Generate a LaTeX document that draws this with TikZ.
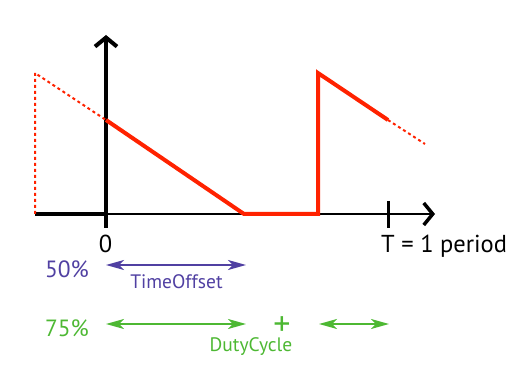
\documentclass[tikz,border=0pt]{standalone}
\usepackage{fontspec}
\setmainfont{PT Sans}
\usetikzlibrary{arrows.meta}
\definecolor{wave}{RGB}{255,34,0}
\definecolor{purp}{RGB}{80,64,162}
\definecolor{grn}{RGB}{77,184,51}
\tikzset{
  axis/.style={line width=4pt,black},
  thinaxis/.style={line width=2pt,black},
  chev/.style={-{Straight Barb[length=9pt,width=22pt,line width=4pt]}},
  chevthin/.style={-{Straight Barb[length=9pt,width=22pt,line width=3.5pt]}},
  sig/.style={line width=4pt,wave},
  sigdot/.style={line width=2pt,wave,dash pattern=on 3pt off 3pt},
  dim/.style={line width=2pt,{Stealth[length=18pt,width=10pt,inset=5pt]}-{Stealth[length=18pt,width=10pt,inset=5pt]}},
  lbl/.style={inner sep=0pt,font=\fontsize{24.5}{25}\selectfont},
  pct/.style={inner sep=0pt,font=\fontsize{23.5}{24}\selectfont},
  small/.style={inner sep=0pt,font=\fontsize{19.5}{20}\selectfont}
}
\begin{document}
\begin{tikzpicture}[x=1pt,y=-1pt]
\useasboundingbox (0,0) rectangle (531,390);
% coordinates
\coordinate (O) at (106,214);
\coordinate (L) at (35,214);
\coordinate (Ytop) at (106,35);
\coordinate (Ybot) at (106,228);
\coordinate (Xend) at (435,214);
\coordinate (Tt) at (388,201);
\coordinate (Tb) at (388,228);
\coordinate (A0) at (35,73);
\coordinate (A1) at (106,120);
\coordinate (A2) at (244,214);
\coordinate (A3) at (318,214);
\coordinate (A4) at (318,73);
\coordinate (A5) at (388,120);
\coordinate (A6) at (425,144);
% axes
\draw[axis] (L) -- (O);
\draw[thinaxis,chevthin] (O) -- (Xend);
\draw[axis,chev] (Ybot) -- (Ytop);
\draw[line width=3pt] (Tt) -- (Tb);
% signal
\draw[sigdot] (L) -- (A0) -- (A1);
\draw[sig,line join=miter] (A1) -- (A2) -- (A3) -- (A4) -- (A5);
\draw[sigdot] (A5) -- (A6);
% labels
\node[lbl,anchor=base] (zero) at (105.5,252.5) {0};
\node[lbl,anchor=base west] (T) at (381,253) {T = 1 period};
% purple
\node[pct,purp,anchor=base east] (p50) at (89,278) {50\%};
\coordinate (P0) at (106,265);
\coordinate (P1) at (246,265);
\draw[dim,purp] (P0) -- (P1);
\node[small,purp,anchor=base] (to) at (176.5,289) {TimeOffset};
% green
\node[pct,grn,anchor=base east] (g75) at (89,337) {75\%};
\coordinate (G0) at (106,324);
\coordinate (G1) at (246,324);
\draw[dim,grn] (G0) -- (G1);
\node[grn,inner sep=0pt,font=\fontsize{34}{34}\selectfont,anchor=base,text depth=0pt] (plus) at (282,335.5) {+};
\coordinate (G2) at (319,324);
\coordinate (G3) at (389,324);
\draw[dim,grn] (G2) -- (G3);
\node[small,grn,anchor=base] (dc) at (251,351.5) {DutyCycle};
\end{tikzpicture}
\end{document}
